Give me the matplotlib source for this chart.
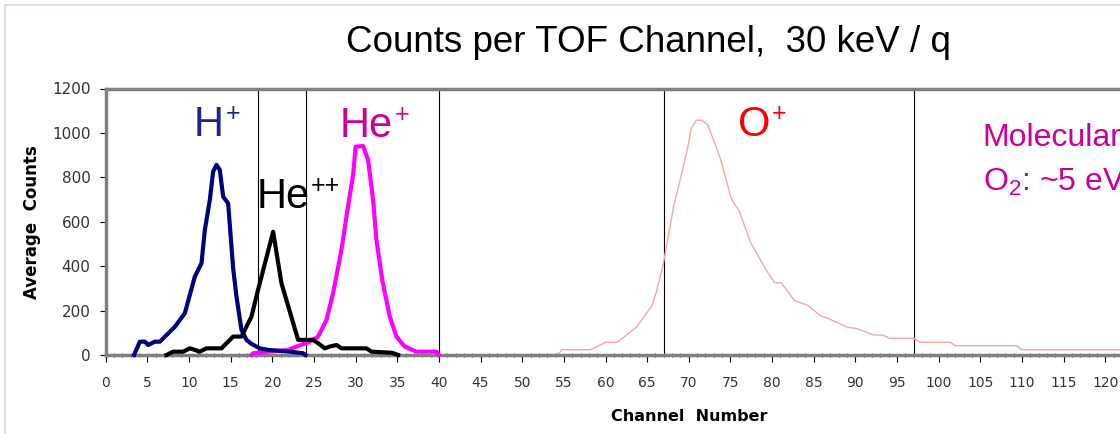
import matplotlib
matplotlib.use('Agg')
from matplotlib import pyplot as plt
from matplotlib.lines import Line2D

plt.rcParams['font.family'] = ['Liberation Sans', 'DejaVu Sans']
plt.rcParams['mathtext.fontset'] = 'custom'
plt.rcParams['mathtext.rm'] = 'Liberation Sans'
plt.rcParams['mathtext.it'] = 'Liberation Sans:italic'

# average counts per TOF channel, one trace per ion species
h_channel = [3.4, 4.1, 4.7, 5.1, 5.9, 6.5, 8.3, 9.5, 10.7, 11.5, 11.9, 12.5, 12.9, 13.3,
             13.7, 14.1, 14.7, 15.3, 15.7, 16.3, 16.9, 17.5, 18.5, 19.5, 22.1, 23.7, 24.0]
h_counts = [0, 60, 60, 45, 60, 60, 127, 188, 353, 413, 563, 698, 826, 856,
            833, 713, 683, 390, 263, 113, 68, 50, 30, 23, 15, 8, 0]

he2_channel = [7.3, 8.1, 9.3, 10.1, 10.7, 11.3, 12.1, 13.9, 15.3, 16.3, 17.5, 18.3, 20.1,
               21.1, 23.1, 24.9, 25.5, 26.3, 26.9, 27.7, 28.3, 31.3, 31.9, 34.4, 35.1]
he2_counts = [0, 15, 15, 30, 23, 15, 30, 30, 83, 83, 173, 295, 555,
              323, 68, 68, 53, 30, 38, 45, 30, 30, 15, 10, 0]

he1_channel = [17.5, 17.7, 21.9, 22.9, 24.5, 25.5, 26.5, 27.3, 28.3, 28.9, 29.7, 30.0,
               30.9, 31.5, 32.1, 32.5, 33.2, 34.1, 34.9, 35.9, 37.3, 39.7, 40.0]
he1_counts = [0, 8, 23, 38, 60, 83, 158, 278, 473, 623, 811, 938,
              941, 878, 698, 518, 338, 173, 83, 38, 15, 15, 0]

o_channel = [8.0, 54.2, 54.8, 58.2, 60.0, 61.4, 63.7, 65.6, 66.1, 66.9, 67.7, 68.2, 69.0,
             69.8, 70.3, 70.9, 71.6, 72.3, 73.8, 75.1, 76.1, 77.4, 79.2, 80.3, 81.1,
             82.7, 84.3, 85.8, 86.9, 89.0, 90.1, 92.2, 93.3, 94.1, 97.0, 97.8, 101.4,
             102.0, 109.4, 109.9, 125.0]
o_counts = [0, 0, 24, 24, 57, 57, 125, 223, 283, 403, 568, 674, 794,
            922, 1020, 1057, 1057, 1035, 884, 704, 644, 508, 388, 325, 325,
            245, 223, 177, 162, 125, 120, 90, 90, 75, 75, 57, 57,
            42, 42, 24, 24]

# channel boundaries marked on the plot
boundaries = [18.3, 24, 40, 67, 97]

fig = plt.figure(figsize=(11.2, 4.34), dpi=100)
W, H = 1120.0, 434.0
x0, x1 = 105.7, 105.7 + 140 * 8.33
ax = fig.add_axes([x0 / W, 79 / H, (x1 - x0) / W, 266.5 / H])

# slide border
fig.add_artist(Line2D([5 / W, 5 / W], [0, 1 - 5 / H], transform=fig.transFigure,
                      color='#d6d6f2', lw=1.2))
fig.add_artist(Line2D([5 / W, 1], [1 - 5 / H, 1 - 5 / H], transform=fig.transFigure,
                      color='#d6d6f2', lw=1.2))

for b in boundaries:
    ax.axvline(b, color='black', lw=0.8, zorder=1)

ax.plot(o_channel, o_counts, color='#f2a8a8', lw=1.0, zorder=2, clip_on=False)
ax.plot(he1_channel, he1_counts, color='#ff00ff', lw=3.0, zorder=3, clip_on=False)
ax.plot(h_channel, h_counts, color='#000080', lw=3.0, zorder=4, clip_on=False)
ax.plot(he2_channel, he2_counts, color='black', lw=3.0, zorder=5, clip_on=False)

ax.set_xlim(0, 140)
ax.set_ylim(0, 1200)
ax.set_xticks(range(0, 141, 5))
ax.set_xticks(range(0, 141, 1), minor=True)
ax.set_yticks(range(0, 1201, 200))

for side in ['left', 'top', 'bottom']:
    ax.spines[side].set_color('#808080')
    ax.spines[side].set_linewidth(2.5)
ax.spines['right'].set_visible(False)

ax.tick_params(axis='x', which='major', direction='out', length=5, width=0.8,
               pad=10, labelsize=10, labelcolor='#333333')
ax.tick_params(axis='x', which='minor', direction='inout', length=3, width=0.6)
ax.tick_params(axis='y', which='major', direction='out', length=4, width=0.8,
               pad=7, labelsize=11, labelcolor='#333333')
for lbl in ax.get_xticklabels() + ax.get_yticklabels():
    lbl.set_family('DejaVu Sans')

ax.set_xlabel('Channel  Number', fontsize=11.5, fontweight='bold', family='DejaVu Sans',
              labelpad=14)
ax.set_ylabel('Average  Counts', fontsize=12, fontweight='bold', family='DejaVu Sans',
              labelpad=8)

fig.text(649 / W, 1 - 52 / H, 'Counts per TOF Channel,  30 keV / q', fontsize=26.5,
         ha='center', va='baseline')


def ion_label(x, y, base, sup, color, size=30):
    t = ax.text(x, y, base, color=color, fontsize=size, ha='left', va='baseline', zorder=6)
    ax.annotate(sup, xy=(1, 1), xycoords=t, xytext=(1, 2.5), textcoords='offset points',
                fontsize=size * 0.6, color=color, ha='left', va='top', zorder=6)


ion_label(10.6, 985, 'H', '+', '#22228c')
ion_label(28.1, 980, 'He', '+', '#cc0099')
ion_label(18.1, 660, 'He', '++', 'black')
ion_label(75.9, 985, 'O', '+', '#ff0000')

ax.text(105.3, 940, 'Molecular', fontsize=23, color='#cc0099', va='baseline', zorder=6)
ax.text(105.3, 740, 'O$_2$: ~5 eV', fontsize=23, color='#cc0099', va='baseline', zorder=6)

fig.savefig('out.png', dpi=100)
